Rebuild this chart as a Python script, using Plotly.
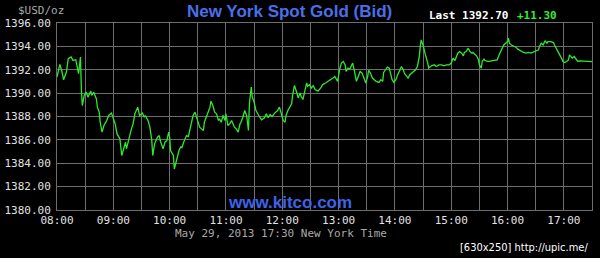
import pandas as pd
import plotly.graph_objects as go

# minutes after 08:00 (New York time) and bid price
minutes = [0, 3, 5, 7, 10, 12, 15, 17, 20, 22, 23, 24, 25, 26, 27, 29, 31, 33, 36, 37,
           39, 42, 43, 45, 46, 48, 50, 53, 55, 58, 60, 62, 64, 67, 69, 71, 73, 74, 76, 77,
           79, 81, 83, 86, 87, 88, 91, 93, 94, 97, 99, 101, 102, 104, 107, 109, 110, 113, 115, 117,
           119, 120, 121, 124, 125, 127, 130, 132, 133, 135, 138, 140, 141, 143, 145, 147, 148, 150, 152, 154,
           156, 157, 159, 161, 163, 164, 166, 168, 170, 172, 173, 175, 177, 179, 180, 182, 184, 186, 188, 189,
           191, 193, 195, 196, 198, 200, 202, 203, 204, 205, 207, 208, 210, 212, 214, 216, 218, 221, 223, 225,
           227, 229, 232, 235, 237, 239, 241, 243, 244, 246, 248, 250, 251, 253, 255, 257, 259, 260, 262, 264,
           266, 267, 269, 271, 273, 275, 278, 281, 283, 286, 289, 292, 294, 296, 298, 299, 301, 303, 305, 307,
           308, 310, 312, 314, 315, 317, 319, 321, 323, 325, 327, 329, 331, 332, 334, 336, 338, 340, 343, 345,
           347, 348, 350, 352, 354, 356, 357, 359, 361, 363, 365, 367, 369, 370, 372, 374, 376, 378, 379, 382,
           384, 386, 387, 388, 390, 391, 393, 395, 396, 399, 402, 404, 407, 410, 412, 415, 418, 420, 422, 424,
           426, 427, 429, 431, 433, 434, 436, 438, 440, 442, 443, 445, 447, 449, 450, 452, 453, 455, 456, 459,
           461, 464, 466, 469, 471, 473, 475, 476, 478, 480, 481, 482, 484, 487, 489, 491, 494, 497, 500, 502,
           505, 507, 510, 513, 514, 516, 518, 520, 522, 523, 526, 529, 530, 532, 534, 536, 538, 539, 541, 543,
           545, 546, 548, 549, 551, 553, 555, 557, 561, 564, 570]

prices = [1391.37, 1392.46, 1391.94, 1391.14, 1391.80, 1392.94, 1393.09, 1392.80, 1392.86, 1392.09,
          1391.66, 1392.37, 1393.09, 1390.23, 1388.94, 1389.80, 1390.09, 1389.66, 1390.17, 1389.80,
          1390.09, 1389.50, 1388.80, 1388.37, 1387.51, 1386.66, 1387.23, 1387.66, 1388.09, 1388.29,
          1387.80, 1387.37, 1386.51, 1386.09, 1384.66, 1385.37, 1385.80, 1385.23, 1386.00, 1386.23,
          1386.86, 1387.37, 1388.23, 1388.80, 1388.51, 1388.09, 1388.29, 1387.94, 1388.09, 1387.66,
          1387.09, 1385.94, 1384.66, 1385.66, 1386.23, 1386.37, 1385.94, 1385.23, 1385.80, 1385.94,
          1386.66, 1386.23, 1385.09, 1384.66, 1383.51, 1384.23, 1385.09, 1385.43, 1385.31, 1385.80,
          1386.37, 1386.29, 1386.66, 1387.23, 1388.09, 1388.37, 1388.09, 1387.51, 1387.09, 1386.94,
          1386.80, 1387.51, 1387.94, 1388.29, 1388.80, 1389.31, 1388.94, 1388.37, 1388.23, 1387.66,
          1387.80, 1387.51, 1388.09, 1387.66, 1388.23, 1387.23, 1387.37, 1387.66, 1387.31, 1387.09,
          1386.94, 1386.66, 1387.37, 1387.51, 1387.94, 1388.51, 1388.09, 1387.23, 1386.80, 1389.09,
          1390.51, 1389.66, 1389.23, 1388.51, 1388.17, 1387.94, 1387.71, 1387.89, 1388.23, 1387.89,
          1388.17, 1388.00, 1388.29, 1388.51, 1388.80, 1388.23, 1387.66, 1387.51, 1388.09, 1388.51,
          1388.80, 1389.09, 1389.80, 1390.66, 1390.16, 1389.59, 1390.02, 1389.73, 1389.45, 1390.30,
          1390.87, 1390.58, 1390.73, 1390.44, 1390.64, 1390.30, 1390.16, 1390.44, 1390.73, 1390.87,
          1391.01, 1391.15, 1391.29, 1391.43, 1391.15, 1391.01, 1392.00, 1392.57, 1392.71, 1392.42,
          1391.86, 1392.14, 1392.06, 1392.34, 1392.57, 1391.86, 1391.01, 1391.43, 1391.86, 1391.72,
          1391.29, 1390.87, 1391.43, 1391.94, 1391.72, 1391.29, 1391.15, 1391.01, 1390.92, 1391.15,
          1391.01, 1391.77, 1392.00, 1392.23, 1392.14, 1391.43, 1391.15, 1390.92, 1391.15, 1391.58,
          1392.00, 1392.28, 1392.00, 1391.72, 1391.49, 1391.29, 1391.58, 1391.72, 1391.77, 1392.00,
          1392.28, 1393.13, 1393.98, 1394.55, 1394.12, 1393.70, 1393.13, 1392.57, 1392.14, 1392.34,
          1392.42, 1392.28, 1392.42, 1392.42, 1392.34, 1392.42, 1392.42, 1392.57, 1392.99, 1392.79,
          1393.13, 1393.42, 1393.56, 1393.42, 1393.19, 1393.48, 1393.56, 1393.84, 1393.56, 1393.42,
          1393.48, 1393.36, 1393.19, 1392.85, 1392.42, 1392.14, 1392.71, 1392.91, 1392.79, 1392.71,
          1392.71, 1392.79, 1392.79, 1392.85, 1393.27, 1393.64, 1393.98, 1394.12, 1394.27, 1394.41,
          1394.70, 1394.27, 1394.12, 1394.04, 1393.93, 1393.76, 1393.61, 1393.48, 1393.42, 1393.48,
          1393.42, 1393.50, 1393.56, 1393.70, 1393.98, 1394.27, 1394.12, 1394.49, 1394.27, 1394.41,
          1394.41, 1394.33, 1394.12, 1393.84, 1393.56, 1393.27, 1392.91, 1392.71, 1392.62, 1392.71,
          1392.85, 1393.27, 1393.13, 1392.99, 1393.13, 1392.91, 1392.71, 1392.76, 1392.76, 1392.76,
          1392.70]

session_day = "2013-05-29"
x_start = "08:00"
x_end = "17:30"
y_min, y_max, y_step = 1380, 1396, 2

title_text = "New York Spot Gold (Bid)"
last_label = "Last 1392.70"
change_label = "+11.30"
unit_label = "$USD/oz"
site_label = "www.kitco.com"
stamp_label = "May 29, 2013 17:30 New York Time"
upic_label = "[630x250] http://upic.me/"

base = pd.Timestamp(f"{session_day} 00:00") + pd.Timedelta(hours=8)
times = [base + pd.Timedelta(minutes=m) for m in minutes]

W, H = 600, 258
ML, MR, MT, MB = 57, 8, 23, 48
PW, PH = W - ML - MR, H - MT - MB


def px(x):
    return (x - ML) / PW


def py(y):
    return (H - MB - y) / PH


GRID = "#6e6e6e"
TXT = "#e2e2e2"
MONO = "DejaVu Sans Mono"

fig = go.Figure()
fig.add_trace(go.Scatter(x=times, y=prices, mode="lines",
                         line=dict(color="#2ee82e", width=1.3),
                         showlegend=False, hoverinfo="skip"))

fig.update_layout(
    width=W, height=H,
    margin=dict(l=ML, r=MR, t=MT, b=MB, pad=0, autoexpand=False),
    paper_bgcolor="#000000", plot_bgcolor="#000000",
    font=dict(family=MONO, size=11, color=TXT),
    xaxis=dict(
        type="date",
        range=[f"{session_day} {x_start}", f"{session_day} {x_end}"],
        tick0=f"{session_day} {x_start}", dtick=3600000, tickformat="%H:%M",
        showgrid=True, gridcolor=GRID, gridwidth=1,
        minor=dict(dtick=1800000, showgrid=True, gridcolor=GRID, gridwidth=1),
        showline=True, linecolor=GRID, linewidth=1, mirror=True,
        zeroline=False, ticks="", ticklen=0, automargin=False,
        tickfont=dict(family=MONO, size=11, color=TXT),
        fixedrange=True,
    ),
    yaxis=dict(
        range=[y_min, y_max], dtick=y_step, tick0=y_min, tickformat=".2f",
        showgrid=True, gridcolor=GRID, gridwidth=1,
        showline=True, linecolor=GRID, linewidth=1, mirror=True,
        zeroline=False, ticks="", ticklen=0, ticklabelstandoff=3, automargin=False,
        tickfont=dict(family=MONO, size=11, color=TXT),
        fixedrange=True,
    ),
)

anns = [
    dict(text=f"<b>{title_text}</b>", x=px(289), y=py(12),
         font=dict(family="Liberation Sans", size=17, color="#4a6fe8")),
    dict(text=f"<b>{last_label}</b>", x=px(468), y=py(15),
         font=dict(family=MONO, size=11, color="#ffffff")),
    dict(text=f"<b>{change_label}</b>", x=px(537), y=py(15),
         font=dict(family=MONO, size=11, color="#33ee33")),
    dict(text=unit_label, x=px(41), y=py(11),
         font=dict(family=MONO, size=11, color="#a8a8a8")),
    dict(text=f"<b>{site_label}</b>", x=px(290), y=py(202),
         font=dict(family="Liberation Sans", size=17, color="#3d63e8")),
    dict(text=stamp_label, x=px(281), y=py(233.5),
         font=dict(family=MONO, size=11, color="#a8a8a8")),
    dict(text=upic_label, x=px(524), y=py(247.5),
         font=dict(family="DejaVu Sans Condensed", size=11, color="#ffffff")),
]
for a in anns:
    fig.add_annotation(xref="paper", yref="paper", showarrow=False,
                       xanchor="center", yanchor="middle", **a)

fig.write_html("out.html")
